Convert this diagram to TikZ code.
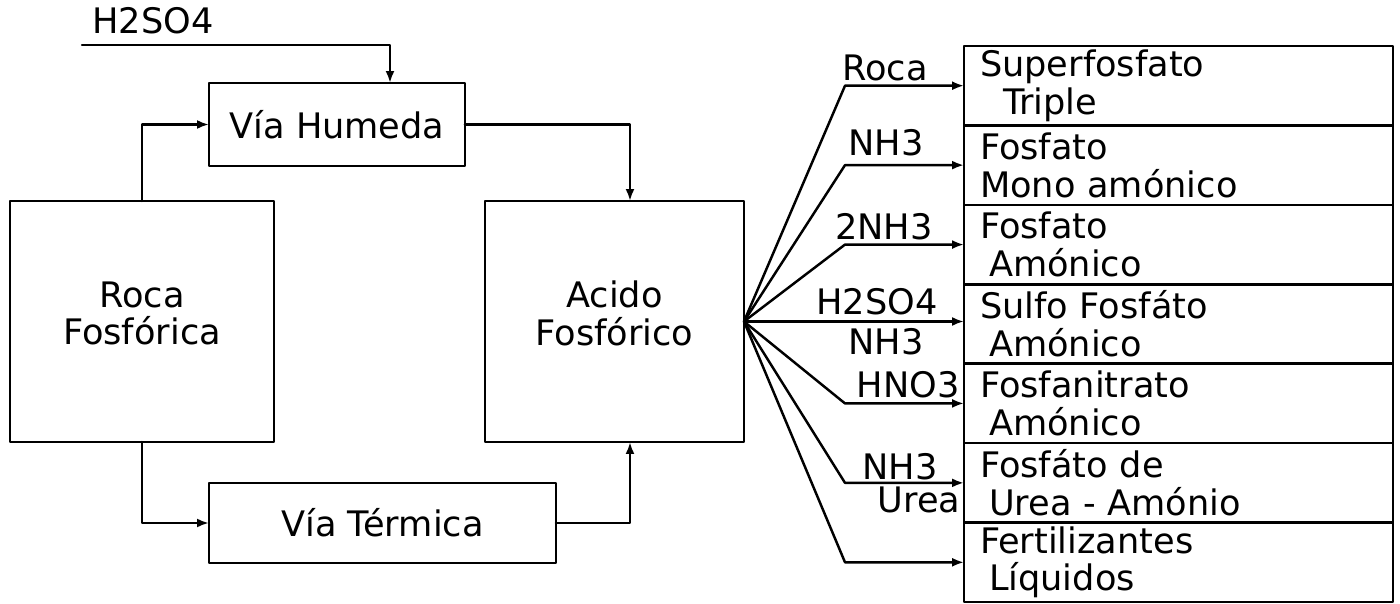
\documentclass[tikz,border=0pt]{standalone}
\usepackage{fontspec}
\setmainfont{DejaVu Sans}
\usetikzlibrary{calc,positioning,arrows.meta}
\tikzset{
  box/.style={draw, line width=1.4pt, outer sep=0pt, inner sep=0pt, align=center},
  prod/.style={draw, line width=1.4pt, outer sep=0pt, minimum width=8.58cm,
    minimum height=1.589cm, inner xsep=0.32cm, inner ysep=0pt, text width=7.94cm, align=left},
  flow/.style={line width=1.4pt, -{Latex[length=2.4mm,width=1.8mm]}},
  chem/.style={inner sep=1pt}
}

\begin{document}
\begin{tikzpicture}[x=0.02cm, y=-0.02cm, line cap=round, line join=round,
    font=\fontsize{20}{21.5}\selectfont]
  \useasboundingbox (0,0) rectangle (1400,604);

  % Main blocks (coordinates in pixels of the original sheet)
  \node[box, minimum width=5.12cm, minimum height=1.66cm] (vh) at (337,124.5) {Vía Humeda};
  \node[box, minimum width=5.28cm, minimum height=4.82cm] (roca) at (142,321.5) {Roca\\Fosfórica\\[-12pt]\mbox{}};
  \node[box, minimum width=5.18cm, minimum height=4.82cm] (acido) at (614.5,321.5) {Acido\\Fosfórico\\[-12pt]\mbox{}};
  \node[box, minimum width=6.94cm, minimum height=1.6cm] (vt) at (382.5,523) {Vía Térmica};

  % Acid feed to the wet route
  \node (h2so4) at (153,21) {H2SO4};
  \coordinate (acin) at (82,45);
  \draw[flow] (acin) -| ($(vh.north)+(53,0)$);

  % Routes from the rock to the acid
  \draw[flow] (roca.north) |- (vh.west);
  \draw[flow] (vh.east) -| ($(acido.north)+(15.5,0)$);
  \draw[flow] (roca.south) |- (vt.west);
  \draw[flow] (vt.east) -| ($(acido.south)+(15.5,0)$);

  % Products column
  \node[prod] (p1) at (1178.5,85.7) {Superfosfato\\\hspace*{0.46cm}Triple};
  \node[prod, below=0pt of p1] (p2) {Fosfato\\Mono amónico};
  \node[prod, below=0pt of p2] (p3) {Fosfato\\\hspace*{0.18cm}Amónico};
  \node[prod, below=0pt of p3] (p4) {Sulfo Fosfáto\\\hspace*{0.18cm}Amónico};
  \node[prod, below=0pt of p4] (p5) {Fosfanitrato\\\hspace*{0.18cm}Amónico};
  \node[prod, below=0pt of p5] (p6) {Fosfáto de\\\hspace*{0.18cm}Urea - Amónio};
  \node[prod, below=0pt of p6] (p7) {Fertilizantes\\\hspace*{0.18cm}Líquidos};

  % Fan of reactions out of the acid
  \coordinate (fan) at (845,0);
  \draw[flow] (acido.east) -- (fan |- p1.west) -- (p1.west);
  \draw[flow] (acido.east) -- (fan |- p2.west) -- (p2.west);
  \draw[flow] (acido.east) -- (fan |- p3.west) -- (p3.west);
  \draw[flow] (acido.east) -- (p4.west |- acido.east);
  \draw[flow] (acido.east) -- (fan |- p5.west) -- (p5.west);
  \draw[flow] (acido.east) -- (fan |- p6.west) -- (p6.west);
  \draw[flow] (acido.east) -- (fan |- p7.west) -- (p7.west);

  % Reagents on the branches
  \node[chem] (lroca) at (885,68) {Roca};
  \node[chem] (lnh3a) at (886,143) {NH3};
  \node[chem] (l2nh3) at (884,227) {2NH3};
  \node[chem] (lh2so4) at (877,302) {H2SO4};
  \node[chem] (lnh3b) at (886,342) {NH3};
  \node[chem] (lhno3) at (908,385) {HNO3};
  \node[chem] (lnh3c) at (900,467) {NH3};
  \node[chem] (lurea) at (919,500) {Urea};
\end{tikzpicture}
\end{document}
